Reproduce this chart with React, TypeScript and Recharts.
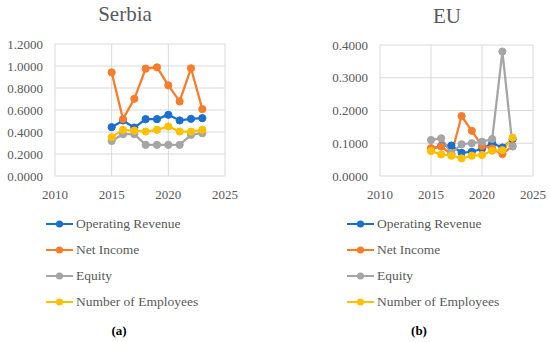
import { LineChart, Line, XAxis, YAxis, CartesianGrid, Legend } from 'recharts'

const years = [2015, 2016, 2017, 2018, 2019, 2020, 2021, 2022, 2023]
const seriesNames = ['Operating Revenue', 'Net Income', 'Equity', 'Number of Employees']
const seriesColors = ['#1a6fcf', '#f97c2a', '#a5a5a5', '#ffc000']
const xTicks = [2010, 2015, 2020, 2025]

// Serbia
const serbiaRevenue = [0.444, 0.505, 0.44, 0.517, 0.517, 0.556, 0.505, 0.52, 0.526]
const serbiaNetIncome = [0.942, 0.517, 0.702, 0.976, 0.988, 0.824, 0.678, 0.979, 0.608]
const serbiaEquity = [0.319, 0.38, 0.38, 0.283, 0.283, 0.283, 0.283, 0.374, 0.389]
const serbiaEmployees = [0.353, 0.42, 0.413, 0.404, 0.42, 0.45, 0.404, 0.404, 0.42]
const serbiaTicks = [0, 0.2, 0.4, 0.6, 0.8, 1.0, 1.2]

// EU
const euRevenue = [0.082, 0.092, 0.093, 0.071, 0.074, 0.083, 0.1, 0.087, 0.112]
const euNetIncome = [0.085, 0.09, 0.066, 0.183, 0.138, 0.092, 0.084, 0.067, 0.092]
const euEquity = [0.11, 0.115, 0.069, 0.097, 0.1, 0.105, 0.113, 0.38, 0.09]
const euEmployees = [0.076, 0.066, 0.062, 0.054, 0.062, 0.064, 0.077, 0.079, 0.117]
const euTicks = [0, 0.1, 0.2, 0.3, 0.4]

const keys = ['rev', 'net', 'eq', 'emp']

function buildRows(cols: number[][]) {
  return years.map((y, i) => {
    const row: Record<string, number> = { year: y }
    keys.forEach((k, j) => {
      row[k] = cols[j][i]
    })
    return row
  })
}

const serbiaData = buildRows([serbiaRevenue, serbiaNetIncome, serbiaEquity, serbiaEmployees])
const euData = buildRows([euRevenue, euNetIncome, euEquity, euEmployees])

const font = '"Liberation Serif", "DejaVu Serif", serif'
const textColor = '#595959'
const gridColor = '#d9d9d9'
const tickStyle = { fill: textColor, fontSize: 13, fontFamily: font }

function LegendBox() {
  return (
    <div style={{ fontFamily: font, fontSize: 13.5, color: textColor }}>
      {seriesNames.map((name, i) => (
        <div key={name} style={{ display: 'flex', alignItems: 'center', height: 26 }}>
          <svg width={28} height={10} style={{ marginRight: 2 }}>
            <line x1={0} y1={5} x2={27} y2={5} stroke={seriesColors[i]} strokeWidth={2} />
            <circle cx={13.5} cy={5} r={3.6} fill={seriesColors[i]} />
          </svg>
          <span style={{ fontFamily: font }}>{name}</span>
        </div>
      ))}
    </div>
  )
}

interface PanelProps {
  data: Record<string, number>[]
  yTicks: number[]
  width: number
  yAxisWidth: number
  rightMargin: number
  top: number
  legendLeft: number
}

function Panel({ data, yTicks, width, yAxisWidth, rightMargin, top, legendLeft }: PanelProps) {
  return (
    <LineChart
      width={width}
      height={320}
      data={data}
      margin={{ top, right: rightMargin, left: 0, bottom: 120 }}
      style={{ fontFamily: font }}
    >
      <CartesianGrid stroke={gridColor} strokeWidth={1} />
      <XAxis
        dataKey="year"
        type="number"
        domain={[2010, 2025]}
        ticks={xTicks}
        tick={tickStyle}
        tickLine={false}
        axisLine={false}
        tickMargin={8}
        height={24}
        interval={0}
      />
      <YAxis
        type="number"
        domain={[yTicks[0], yTicks[yTicks.length - 1]]}
        ticks={yTicks}
        tick={tickStyle}
        tickLine={false}
        axisLine={false}
        tickMargin={6}
        width={yAxisWidth}
        interval={0}
        tickFormatter={(v: number) => v.toFixed(4)}
      />
      <Legend
        layout="vertical"
        align="center"
        verticalAlign="middle"
        wrapperStyle={{ position: 'absolute', top: 211, left: legendLeft, width: 220 }}
        content={() => <LegendBox />}
      />
      {keys.map((k, i) => (
        <Line
          key={k}
          dataKey={k}
          name={seriesNames[i]}
          stroke={seriesColors[i]}
          strokeWidth={2.25}
          type="linear"
          dot={{ r: 3.6, fill: seriesColors[i], stroke: seriesColors[i], strokeWidth: 1 }}
          isAnimationActive={false}
        />
      ))}
    </LineChart>
  )
}

export default function App() {
  return (
    <div style={{ position: 'absolute', left: 0, top: 0, width: 550, height: 342, background: '#fff', fontFamily: font }}>
      <div style={{ position: 'absolute', left: 0, top: 0 }}>
        <Panel data={serbiaData} yTicks={serbiaTicks} width={240} yAxisWidth={55} rightMargin={15} top={44} legendLeft={46} />
      </div>
      <div style={{ position: 'absolute', left: 320, top: 0 }}>
        <Panel data={euData} yTicks={euTicks} width={230} yAxisWidth={60} rightMargin={17} top={45} legendLeft={27} />
      </div>
      <div style={{ position: 'absolute', left: 75, width: 100, top: 2, textAlign: 'center', fontSize: 21, color: textColor }}>
        Serbia
      </div>
      <div style={{ position: 'absolute', left: 397, width: 100, top: 4, textAlign: 'center', fontSize: 21, color: textColor }}>
        EU
      </div>
      <div style={{ position: 'absolute', left: 99, width: 40, top: 323, textAlign: 'center', fontSize: 13, fontWeight: 'bold', color: '#000' }}>
        (a)
      </div>
      <div style={{ position: 'absolute', left: 399, width: 40, top: 323, textAlign: 'center', fontSize: 13, fontWeight: 'bold', color: '#000' }}>
        (b)
      </div>
    </div>
  )
}
